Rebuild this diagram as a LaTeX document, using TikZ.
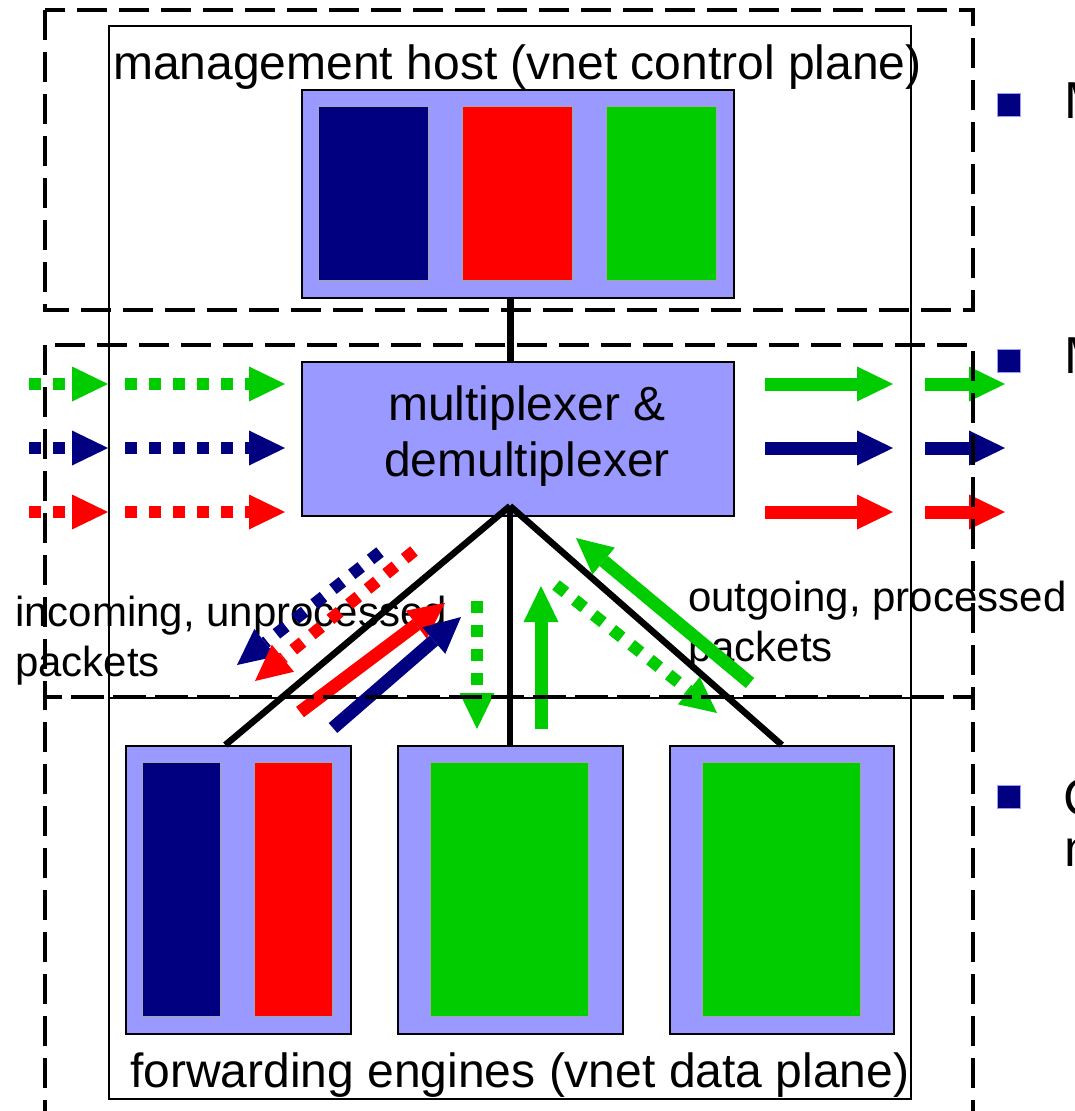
\documentclass[tikz,border=0pt]{standalone}
\usepackage{fontspec}
\setmainfont{Liberation Sans}
\usetikzlibrary{arrows.meta}

\definecolor{navy}{HTML}{000080}
\definecolor{vred}{HTML}{FF0000}
\definecolor{vgreen}{HTML}{00CC00}
\definecolor{lav}{HTML}{9999FF}

\tikzset{
  region/.style={draw=black, line width=4pt, dash pattern=on 30pt off 12pt},
  frame/.style={draw=black, line width=1.8pt, inner sep=0pt, anchor=north west},
  panel/.style={fill=lav, draw=black, line width=1.6pt, inner sep=0pt, anchor=north west},
  slot/.style={draw=black!35, line width=0.8pt, inner sep=0pt, anchor=north west},
  wire/.style={draw=black, line width=6.5pt},
  tipshape/.style={-{Triangle[length=36pt,width=35pt,line width=0pt]}},
  flow/.style={line width=13pt, tipshape},
  dotflow/.style={line width=12pt, dash pattern=on 12pt off 12pt, tipshape},
  big/.style={font=\fontsize{48}{56}\selectfont, inner sep=0pt},
  flowtext/.style={font=\fontsize{42}{50}\selectfont, inner sep=0pt, align=left},
  bullettext/.style={font=\fontsize{52}{60}\selectfont, inner sep=0pt, anchor=base west},
  bullet/.style={fill=navy, draw=lav, line width=0.6pt, minimum size=23pt, inner sep=0pt, anchor=north west},
}

\begin{document}
\begin{tikzpicture}[x=1pt,y=-1pt]
\useasboundingbox (0,0) rectangle (1075,1111);
\clip (0,0) rectangle (1075,1111);

% host frames and their titles
\node[frame, minimum width=802pt, minimum height=672pt] (hostframe) at (108,25) {};
\node[frame, minimum width=802pt, minimum height=401pt] (fwdframe) at (108,697) {};
\node[big, anchor=base west] (hosttitle) at (113,79) {management host (vnet control plane)};
\node[big, anchor=base west] (fwdtitle) at (130,1087) {forwarding engines (vnet data plane)};

% control plane with its three virtual networks
\node[panel, minimum width=432pt, minimum height=208pt] (ctrl) at (301,89) {};
\node[slot, fill=navy,   minimum width=110pt, minimum height=174pt] (ctrlA) at (318,106) {};
\node[slot, fill=vred,   minimum width=110pt, minimum height=174pt] (ctrlB) at (462,106) {};
\node[slot, fill=vgreen, minimum width=110pt, minimum height=174pt] (ctrlC) at (606,106) {};

% multiplexer (a multi-line node's base is its last line)
\node[panel, line width=2pt, minimum width=432pt, minimum height=154pt] (mux) at (301,361) {};
\node[big, align=center, anchor=base] (muxtext) at (527,476) {multiplexer \&\\demultiplexer};
\coordinate (hub) at (510,506);
\draw[line width=7pt] (ctrl.south -| hub) -- (mux.north -| hub);

% forwarding engines
\node[panel, minimum width=225pt, minimum height=288pt] (engL) at (125,745) {};
\node[panel, minimum width=225pt, minimum height=288pt] (engM) at (397,745) {};
\node[panel, minimum width=224pt, minimum height=288pt] (engR) at (669,745) {};
\node[slot, fill=navy,   minimum width=78pt,  minimum height=254pt] (engLa) at (142,762) {};
\node[slot, fill=vred,   minimum width=78pt,  minimum height=254pt] (engLb) at (254,762) {};
\node[slot, fill=vgreen, minimum width=158pt, minimum height=254pt] (engMa) at (430,762) {};
\node[slot, fill=vgreen, minimum width=158pt, minimum height=254pt] (engRa) at (702,762) {};

% links from the multiplexer to the engines
\draw[wire] (hub) -- ([xshift=-13pt]engL.north);
\draw[wire] (hub) -- (engM.north -| hub);
\draw[wire] (hub) -- (engR.north);

% traffic labels
\node[flowtext, anchor=base west] (inlabel) at (15,676) {incoming, unprocessed\\packets};
\node[flowtext, anchor=base west] (outlabel) at (688,661) {outgoing, processed\\packets};

% external traffic: unprocessed in, processed out
\foreach \c/\y/\n in {vgreen/384/g, navy/448/b, vred/512/r}{
  \coordinate (inA\n) at (29,\y);
  \coordinate (inB\n) at (108,\y);
  \coordinate (inC\n) at (125,\y);
  \coordinate (inD\n) at (285,\y);
  \coordinate (outA\n) at (765,\y);
  \coordinate (outB\n) at (893,\y);
  \coordinate (outC\n) at (925,\y);
  \coordinate (outD\n) at (1005,\y);
  \draw[dotflow, \c] (inA\n) -- (inB\n);
  \draw[dotflow, \c] (inC\n) -- (inD\n);
  \draw[flow, \c] (outA\n) -- (outB\n);
  \draw[flow, \c] (outC\n) -- (outD\n);
}

% traffic between multiplexer and engines
\coordinate (bDnS) at (380,552);  \coordinate (bDnT) at (237,665);
\coordinate (rDnS) at (414,551);  \coordinate (rDnT) at (255,681);
\coordinate (rUpS) at (300,712);  \coordinate (rUpT) at (445,603);
\coordinate (bUpS) at (333,728);  \coordinate (bUpT) at (461,617);
\coordinate (gDnS) at (477,601);  \coordinate (gDnT) at (477,729);
\coordinate (gUpS) at (541,729);  \coordinate (gUpT) at (541,586);
\coordinate (hDnS) at (556,585);  \coordinate (hDnT) at (717,713);
\coordinate (hUpS) at (750,683);  \coordinate (hUpT) at (576,538);
\draw[dotflow, navy]   (bDnS) -- (bDnT);
\draw[dotflow, vred]   (rDnS) -- (rDnT);
\draw[flow, vred]      (rUpS) -- (rUpT);
\draw[flow, navy]      (bUpS) -- (bUpT);
\draw[dotflow, vgreen] (gDnS) -- (gDnT);
\draw[flow, vgreen]    (gUpS) -- (gUpT);
\draw[dotflow, vgreen] (hDnS) -- (hDnT);
\draw[flow, vgreen]    (hUpS) -- (hUpT);

% bullet list beside the figure
\node[bullet] (bul1) at (997,93) {};
\node[bullet] (bul2) at (997,349) {};
\node[bullet] (bul3) at (997,785) {};
\node[bullettext] (bt1) at (1064,118) {M};
\node[bullettext] (bt2) at (1064,373) {M};
\node[bullettext] (bt3) at (1063,815) {C};
\node[bullettext] (bt4) at (1064,866) {n};

% dashed planes
\draw[region] (45,10) rectangle (973,310);
\draw[region] (45,345) rectangle (973,697);
\draw[region] (45,1130) -- (45,697) -- (973,697) -- (973,1130);
\end{tikzpicture}
\end{document}
